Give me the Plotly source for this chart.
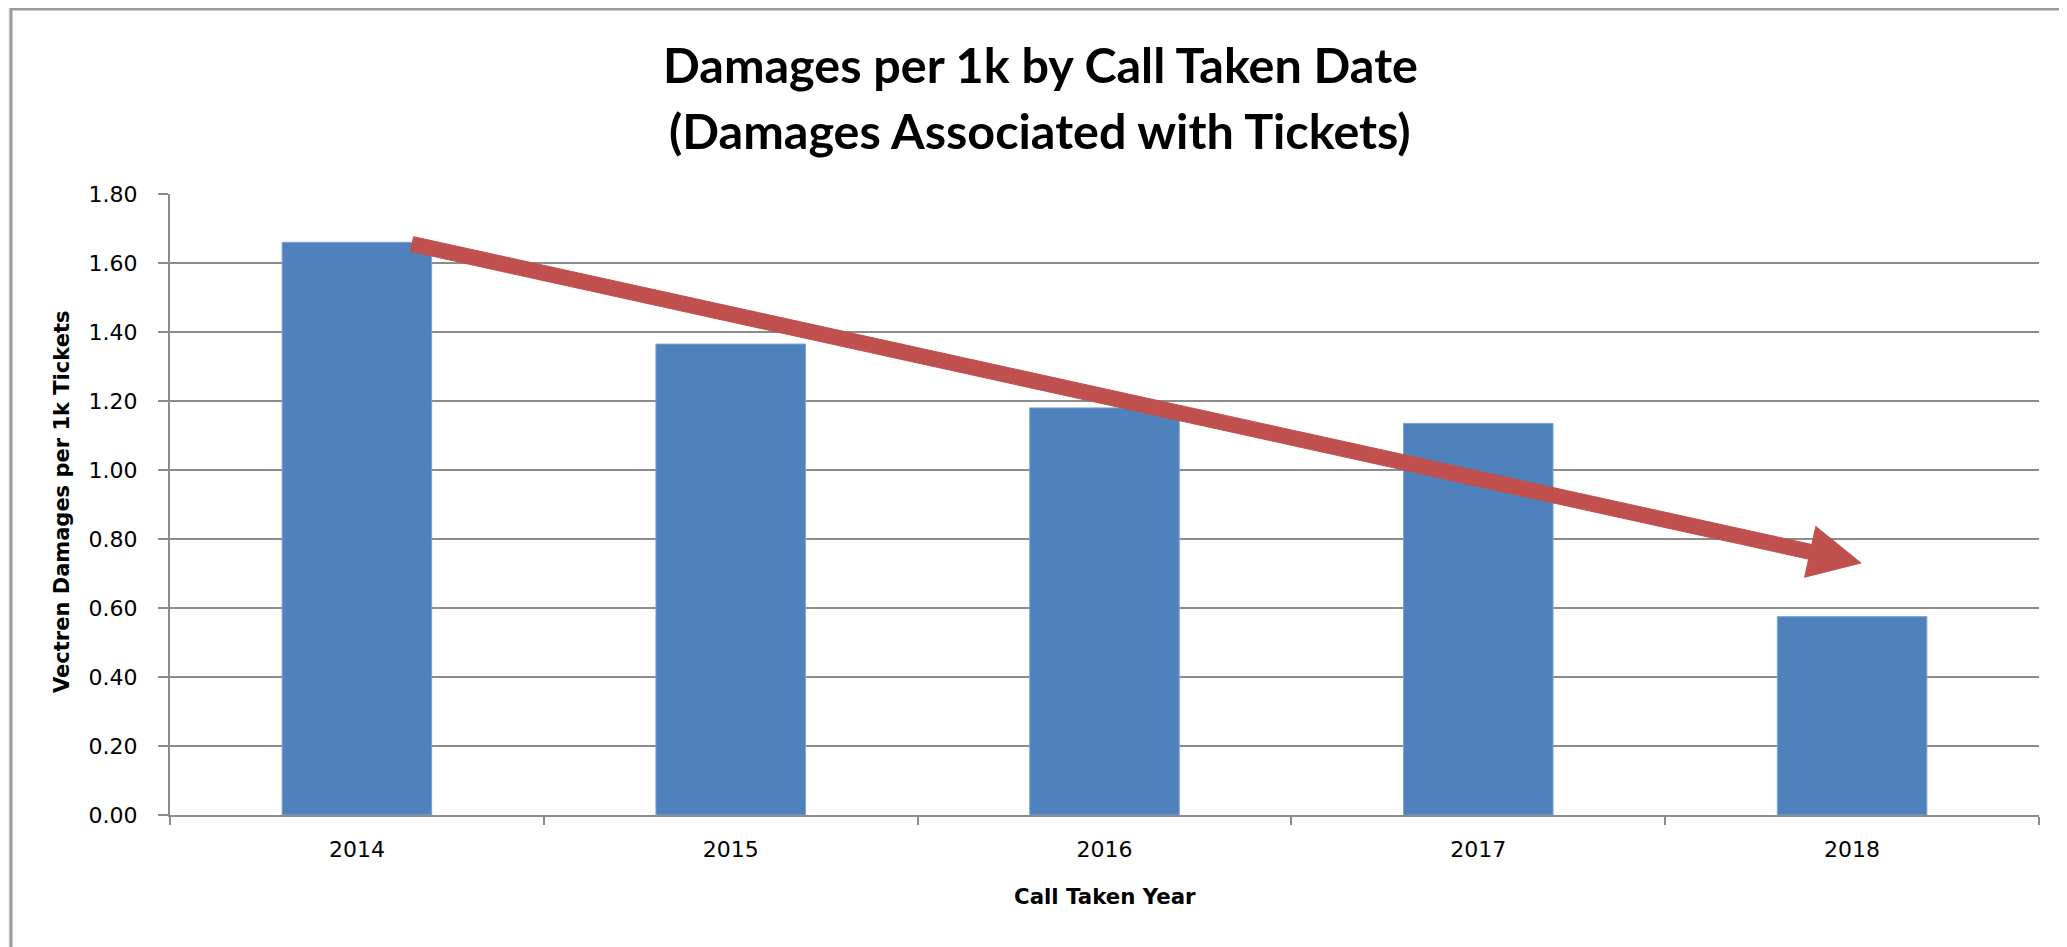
import math
import plotly.graph_objects as go

years = ["2014", "2015", "2016", "2017", "2018"]
damages_per_1k = [1.66, 1.365, 1.18, 1.135, 0.575]
y_ticks = [0.0, 0.2, 0.4, 0.6, 0.8, 1.0, 1.2, 1.4, 1.6, 1.8]
y_tick_labels = [f"{v:.2f}" for v in y_ticks]

OFF = 8  # default page body margin
W, H = 2067 - OFF, 947 - OFF
# plot area in window pixels
L, R, T, B = 170, 2039, 194, 815


def px(xp, yp):
    return (xp - L) / (R - L), (B - yp) / (B - T)


fig = go.Figure()
fig.add_trace(go.Bar(
    x=years, y=damages_per_1k,
    marker=dict(color="#4F81BD", line=dict(color="#7aa3d4", width=1)),
    hoverinfo="x+y",
))

shapes = []
# chart frame
fx0, fy0 = px(11, OFF + 1)
fx1, fy1 = px(2110, 990)
shapes.append(dict(type="rect", xref="paper", yref="paper", x0=fx0, y0=fy1, x1=fx1, y1=fy0,
                   fillcolor="white", line=dict(color="#9a9a9a", width=3), layer="below"))

# trend arrow (pixel geometry)
tail = (412, 244)
tip = (1861, 563)
head_len = 52
head_half = 26
shaft_half = 7.5
dx, dy = tip[0] - tail[0], tip[1] - tail[1]
ln = math.hypot(dx, dy)
ux, uy = dx / ln, dy / ln
nx, ny = -uy, ux
bx, by = tip[0] - ux * head_len, tip[1] - uy * head_len
pts = [
    (tail[0] + nx * shaft_half, tail[1] + ny * shaft_half),
    (bx + nx * shaft_half, by + ny * shaft_half),
    (bx + nx * head_half, by + ny * head_half),
    tip,
    (bx - nx * head_half, by - ny * head_half),
    (bx - nx * shaft_half, by - ny * shaft_half),
    (tail[0] - nx * shaft_half, tail[1] - ny * shaft_half),
]
path = "M " + " L ".join(f"{px(a, b)[0]:.5f},{px(a, b)[1]:.5f}" for a, b in pts) + " Z"
shapes.append(dict(type="path", xref="paper", yref="paper", path=path,
                   fillcolor="#C0504D", line=dict(color="#C0504D", width=1), layer="above"))

annotations = []
tx, ty1 = px(1040, 64)
_, ty2 = px(1040, 130)
annotations.append(dict(text="<b>Damages per 1k by Call Taken Date</b>", xref="paper", yref="paper",
                        x=tx, y=ty1, xanchor="center", yanchor="middle", showarrow=False,
                        font=dict(family="Lato", size=48.5, color="#000000")))
annotations.append(dict(text="<b>(Damages Associated with Tickets)</b>", xref="paper", yref="paper",
                        x=tx, y=ty2, xanchor="center", yanchor="middle", showarrow=False,
                        font=dict(family="Lato", size=48.5, color="#000000")))
yx, yy = px(62, 502)
annotations.append(dict(text="<b>Vectren Damages per 1k Tickets</b>", xref="paper", yref="paper",
                        x=yx, y=yy, xanchor="center", yanchor="middle", showarrow=False, textangle=-90,
                        font=dict(family="DejaVu Sans", size=21, color="#000000")))
xx, xy = px(1105, 896)
annotations.append(dict(text="<b>Call Taken Year</b>", xref="paper", yref="paper",
                        x=xx, y=xy, xanchor="center", yanchor="middle", showarrow=False,
                        font=dict(family="DejaVu Sans", size=21.3, color="#000000")))

fig.update_layout(
    width=W, height=H,
    margin=dict(l=L - OFF, r=(W + OFF) - R, t=T - OFF, b=(H + OFF) - B, pad=0),
    paper_bgcolor="#eef1f5",
    plot_bgcolor="white",
    showlegend=False,
    bargap=0.6,
    shapes=shapes,
    annotations=annotations,
    font=dict(family="DejaVu Sans", color="#000000"),
)
fig.update_xaxes(
    type="category", showgrid=False, showline=True, linecolor="#8c8c8c", linewidth=2,
    ticks="outside", tickson="boundaries", ticklen=8, tickwidth=2, tickcolor="#8c8c8c",
    tickfont=dict(family="DejaVu Sans", size=22, color="#000000"), ticklabelstandoff=14,
)
fig.update_yaxes(
    range=[0, 1.8], tickvals=y_ticks, ticktext=y_tick_labels,
    showgrid=True, gridcolor="#8c8c8c", gridwidth=2,
    showline=True, linecolor="#8c8c8c", linewidth=2, zeroline=False,
    ticks="outside", ticklen=10, tickwidth=2, tickcolor="#8c8c8c",
    tickfont=dict(family="DejaVu Sans", size=22, color="#000000"), ticklabelstandoff=16,
)

fig.write_html("out.html")
